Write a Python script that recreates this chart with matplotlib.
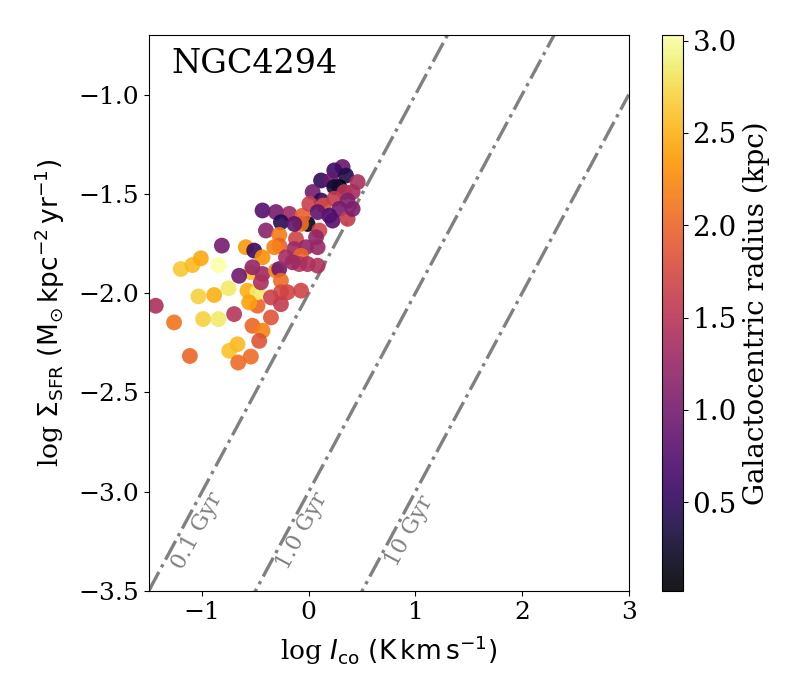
import numpy as np
import matplotlib
matplotlib.use('Agg')
import matplotlib.pyplot as plt

plt.rcParams['font.family'] = 'DejaVu Serif'

# log I_co, log Sigma_SFR and galactocentric radius (kpc) for each region
log_ico = [-1.435, -1.263, -1.115, -1.20, -1.091, -1.012, -0.847, -0.815, -1.035, -0.887,
           -0.753, -0.991, -0.847, -0.70, -0.746, -0.669, -0.662, -0.543, -0.528, -0.434,
           -0.465, -0.355, -0.481, -0.59, -0.512, -0.434, -0.543, -0.653, -0.575, -0.481,
           -0.559, -0.528, -0.434, -0.449, -0.308, -0.277, -0.261, -0.073, -0.261, -0.199,
           -0.355, -0.261, -0.434, -0.308, -0.183, -0.261, -0.402, -0.277, -0.12, -0.026,
           -0.136, -0.277, -0.324, -0.214, -0.073, -0.089, -0.011, -0.152, -0.011, -0.073,
           -0.058, -0.136, 0.317, 0.239, 0.349, 0.115, 0.208, 0.286, 0.239, 0.458,
           0.411, 0.333, 0.036, 0.115, 0.005, 0.139, 0.239, 0.364, 0.286, 0.192,
           0.223, 0.364, 0.083, 0.411, 0.099, 0.068, 0.083, 0.083]
log_sfr = [-2.064, -2.148, -2.317, -1.879, -1.859, -1.825, -1.859, -1.761, -2.017, -2.010,
           -1.976, -2.131, -2.131, -2.106, -2.291, -2.258, -2.35, -2.32, -2.165, -2.19,
           -2.241, -2.123, -2.064, -1.769, -1.786, -1.82, -1.895, -1.913, -1.988, -1.996,
           -2.047, -1.87, -1.904, -1.946, -1.887, -1.879, -1.938, -1.988, -1.996, -1.996,
           -2.022, -2.056, -1.584, -1.592, -1.601, -1.643, -1.685, -1.707, -1.727, -1.769,
           -1.778, -1.761, -1.769, -1.82, -1.812, -1.854, -1.854, -1.845, -1.652, -1.652,
           -1.61, -1.652, -1.365, -1.382, -1.408, -1.433, -1.433, -1.466, -1.466, -1.441,
           -1.491, -1.491, -1.491, -1.534, -1.551, -1.559, -1.525, -1.534, -1.576, -1.61,
           -1.635, -1.626, -1.592, -1.576, -1.685, -1.719, -1.769, -1.862]
radius = [1.4, 2.1, 2.0, 2.65, 2.55, 2.45, 3.03, 1.0, 2.7, 2.5,
          2.85, 2.7, 2.85, 1.5, 2.6, 2.55, 2.05, 2.05, 2.0, 2.2,
          1.85, 1.85, 2.0, 2.35, 0.55, 2.3, 2.6, 0.95, 2.5, 2.85,
          2.4, 1.2, 1.3, 1.4, 2.2, 0.95, 2.05, 1.7, 1.75, 1.7,
          1.65, 1.6, 0.75, 1.0, 1.3, 0.45, 1.15, 2.15, 1.7, 1.2,
          1.3, 1.95, 2.2, 1.35, 2.0, 1.5, 1.4, 1.3, 0.15, 2.1,
          1.95, 0.85, 0.9, 0.6, 0.4, 0.5, 0.9, 0.02, 0.3, 1.4,
          1.35, 1.5, 1.0, 0.5, 1.65, 1.8, 1.6, 1.1, 1.0, 0.7,
          0.75, 1.6, 0.85, 1.05, 1.7, 1.2, 1.25, 1.45]

# constant depletion time lines: log Sigma_SFR = log I_co + offset
tdep_labels = ['0.1 Gyr', '1.0 Gyr', '10 Gyr']
tdep_offsets = [-2.0, -3.0, -4.0]
label_x = [-1.045, -0.06, 0.945]
label_y = [-3.2, -3.2, -3.2]

fig = plt.figure(figsize=(8, 7), dpi=100)
ax = fig.add_axes([0.186, 0.156, 0.6, 0.794])
cax = fig.add_axes([0.8275, 0.156, 0.026, 0.794])

xx = np.array([-1.5, 3.0])
for off in tdep_offsets:
    ax.plot(xx, xx + off, color='gray', ls='-.', lw=2.4, zorder=1)
for lab, lx, ly in zip(tdep_labels, label_x, label_y):
    ax.text(lx, ly, lab, color='gray', fontsize=16, rotation=61.7,
            ha='center', va='center')

sc = ax.scatter(log_ico, log_sfr, c=radius, cmap='inferno', s=130,
                alpha=0.9, edgecolors='none', zorder=2)

ax.set_xlim(-1.5, 3.0)
ax.set_ylim(-3.5, -0.7)
ax.set_xticks([-1, 0, 1, 2, 3])
ax.set_yticks([-3.5, -3.0, -2.5, -2.0, -1.5, -1.0])
ax.tick_params(labelsize=18)
ax.set_xlabel(r'log $I_{\rm co}$ $({\rm K\,km\,s^{-1}})$', fontsize=19, labelpad=7)
ax.set_ylabel(r'log $\Sigma_{\rm SFR}$ $({\rm M_{\odot}\,kpc^{-2}\,yr^{-1}})$', fontsize=19, labelpad=8)
ax.text(0.046, 0.948, 'NGC4294', transform=ax.transAxes, fontsize=24,
        ha='left', va='center')

cb = fig.colorbar(sc, cax=cax)
cb.set_ticks([0.5, 1.0, 1.5, 2.0, 2.5, 3.0])
cb.ax.tick_params(labelsize=20)
cb.set_label('Galactocentric radius (kpc)', fontsize=20)

fig.savefig('out.png', dpi=100)
